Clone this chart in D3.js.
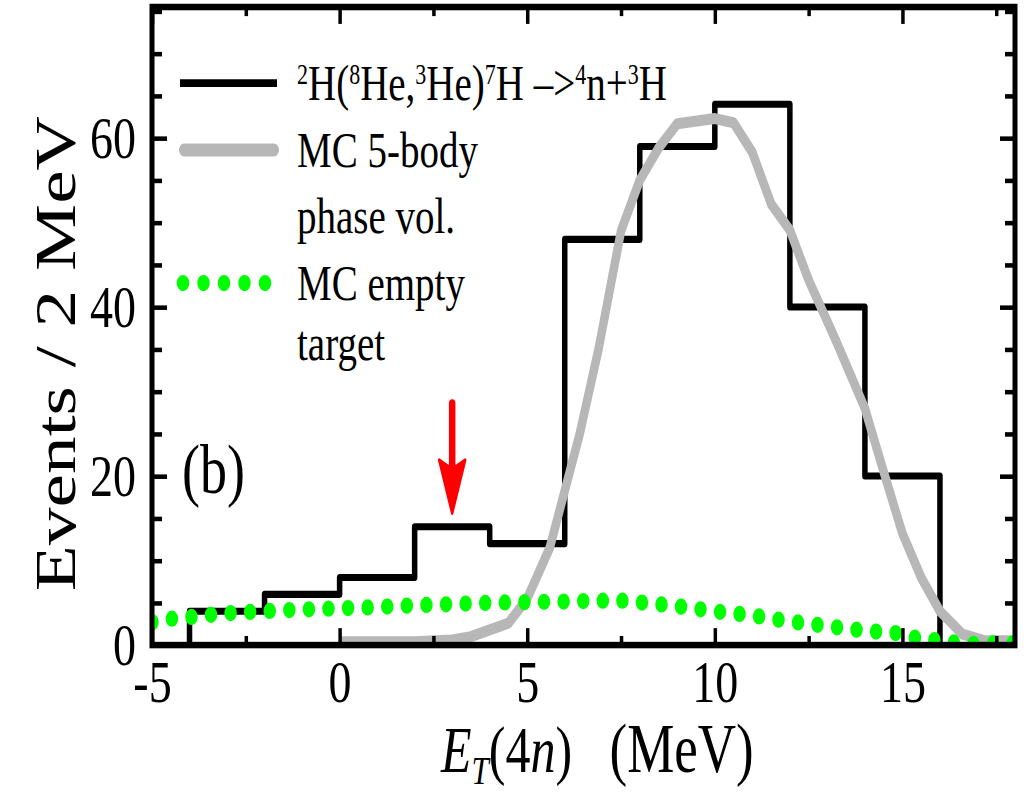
<!DOCTYPE html>
<html>
<head>
<meta charset="utf-8">
<script src="https://cdn.jsdelivr.net/npm/d3@7"></script>
<style>
  html, body { margin: 0; padding: 0; background: #fff; }
  svg { display: block; }
  text { font-family: "Liberation Serif", "Times New Roman", serif; fill: #000; }
</style>
</head>
<body>
<script>
// Histogram of 2H(8He,3He)7H -> 4n+3H events, 2 MeV bins
const binEdges = [-4, -2, 0, 2, 4, 6, 8, 10, 12, 14, 16];
const eventCounts = [4, 6, 8, 14, 12, 48, 59, 64, 40, 20];

// MC 5-body phase volume curve
const phaseE = [0, 1, 2, 3, 3.5, 4.5, 5.0, 5.6, 6.4, 6.9, 7.5, 8.0, 8.5, 9.0, 10.0, 10.5, 11.0, 11.5, 12.0, 12.5, 13.2, 14.0, 14.5, 15.0, 15.5, 16.0, 16.6, 17.2, 18.0];
const phaseN = [0.4, 0.4, 0.4, 0.6, 1.0, 2.6, 5.5, 11.5, 25, 35, 49, 55, 58.8, 61.7, 62.3, 61.8, 58.3, 52.2, 49.1, 43.2, 36.3, 28, 20.5, 13.2, 8, 4, 1.3, 0.5, 0.5];

// MC empty target curve
const emptyE = [-5, -4.5, -4, -3.5, -3, -2, -1, 0, 1, 2, 3, 4, 5, 6, 7, 7.5, 8, 9, 10, 11, 12, 13, 14, 15, 15.5, 16, 16.5, 17, 17.5, 18];
const emptyN = [2.7, 3.1, 3.3, 3.55, 3.75, 4.0, 4.2, 4.35, 4.5, 4.7, 4.85, 5.0, 5.08, 5.15, 5.25, 5.25, 5.05, 4.6, 4.0, 3.5, 2.8, 2.25, 1.7, 1.3, 0.7, 0.55, 0.25, 0.15, 0.2, 0.2];

// Axis ticks
const xMajor = [-5, 0, 5, 10, 15];
const xMinor = [-2.5, 2.5, 7.5, 12.5, 17.5];
const yMajor = [0, 20, 40, 60];
const yMinor = [5, 10, 15, 25, 30, 35, 45, 50, 55, 65, 70, 75];

// Marker arrow (energy, from, to)
const arrowE = 3;
const arrowFrom = 28.6;
const arrowTo = 15.6;

const W = 1026, H = 793, VH = 610;   // drawing is stretched vertically
const svg = d3.select("body").append("svg")
  .attr("width", W).attr("height", H)
  .attr("viewBox", `0 0 ${W} ${VH}`)
  .attr("preserveAspectRatio", "none");

const x = d3.scaleLinear().domain([-5, 18]).range([152, 1015]);
const y = d3.scaleLinear().domain([0, 75.5]).range([496.2, 5.4]);

svg.append("clipPath").attr("id", "plot")
  .append("rect")
  .attr("x", x(-5)).attr("y", y(75.5))
  .attr("width", x(18) - x(-5)).attr("height", y(0) - y(75.5));

const plot = svg.append("g").attr("clip-path", "url(#plot)");

// histogram as steps
const histPts = [[binEdges[0], 0]];
eventCounts.forEach((c, i) => {
  histPts.push([binEdges[i], c]);
  histPts.push([binEdges[i + 1], c]);
});
histPts.push([binEdges[binEdges.length - 1], 0]);

const line = d3.line().x(d => x(d[0])).y(d => y(d[1]));

plot.append("path")
  .datum(histPts)
  .attr("d", line)
  .attr("fill", "none")
  .attr("stroke", "#000")
  .attr("stroke-width", 5.5)
  .attr("stroke-linejoin", "round");

// phase volume curve
plot.append("path")
  .datum(phaseE.map((e, i) => [e, phaseN[i]]))
  .attr("d", line)
  .attr("fill", "none")
  .attr("stroke", "#b7b7b7")
  .attr("stroke-width", 8.5)
  .attr("stroke-linejoin", "round");

// empty target, dotted
plot.append("path")
  .datum(emptyE.map((e, i) => [e, emptyN[i]]))
  .attr("d", d3.line().x(d => x(d[0])).y(d => y(d[1])).curve(d3.curveMonotoneX))
  .attr("fill", "none")
  .attr("stroke", "#00ff00")
  .attr("stroke-width", 12.5)
  .attr("stroke-linecap", "round")
  .attr("stroke-dasharray", "0 19.6")
  .attr("stroke-dashoffset", -0.5);

// red arrow
const ax = x(arrowE);
const tipY = y(arrowTo);
svg.append("line")
  .attr("x1", ax).attr("x2", ax)
  .attr("y1", y(arrowFrom)).attr("y2", tipY - 30)
  .attr("stroke", "#ff0000")
  .attr("stroke-width", 6.5)
  .attr("stroke-linecap", "round");
svg.append("path")
  .attr("d", `M${ax},${tipY} L${ax - 13},${tipY - 41} L${ax - 4},${tipY - 36} L${ax + 4},${tipY - 36} L${ax + 13},${tipY - 41} Z`)
  .attr("fill", "#ff0000")
  .attr("stroke", "#ff0000")
  .attr("stroke-width", 2.5)
  .attr("stroke-linejoin", "round");

// axes with inward ticks
function styleAxis(g, fontSize) {
  g.select(".domain").remove();
  g.selectAll(".tick line").attr("stroke", "#000").attr("stroke-width", 3.5);
  g.selectAll(".tick text")
    .attr("font-family", "Liberation Serif, Times New Roman, serif")
    .attr("font-size", fontSize)
    .attr("fill", "#000");
}
const fmt = d => String(d);

svg.append("g").attr("transform", `translate(0,${y(0)})`)
  .call(d3.axisBottom(x).tickValues(xMajor).tickSize(-13).tickPadding(11).tickFormat(fmt))
  .call(g => styleAxis(g, 46));
svg.append("g").attr("transform", `translate(0,${y(0)})`)
  .call(d3.axisBottom(x).tickValues(xMinor).tickSize(-7).tickFormat(""))
  .call(g => styleAxis(g, 0));
svg.append("g").attr("transform", `translate(0,${y(75.5)})`)
  .call(d3.axisTop(x).tickValues(xMajor).tickSize(-13).tickFormat(""))
  .call(g => styleAxis(g, 0));
svg.append("g").attr("transform", `translate(0,${y(75.5)})`)
  .call(d3.axisTop(x).tickValues(xMinor).tickSize(-7).tickFormat(""))
  .call(g => styleAxis(g, 0));

svg.append("g").attr("transform", `translate(${x(-5)},0)`)
  .call(d3.axisLeft(y).tickValues(yMajor).tickSize(-15).tickPadding(16).tickFormat(fmt))
  .call(g => styleAxis(g, 46));
svg.append("g").attr("transform", `translate(${x(-5)},0)`)
  .call(d3.axisLeft(y).tickValues(yMinor).tickSize(-10).tickFormat(""))
  .call(g => styleAxis(g, 0));
svg.append("g").attr("transform", `translate(${x(18)},0)`)
  .call(d3.axisRight(y).tickValues(yMajor).tickSize(-15).tickFormat(""))
  .call(g => styleAxis(g, 0));
svg.append("g").attr("transform", `translate(${x(18)},0)`)
  .call(d3.axisRight(y).tickValues(yMinor).tickSize(-10).tickFormat(""))
  .call(g => styleAxis(g, 0));

// frame
svg.append("rect")
  .attr("x", x(-5)).attr("y", y(75.5))
  .attr("width", x(18) - x(-5)).attr("height", y(0) - y(75.5))
  .attr("fill", "none").attr("stroke", "#000").attr("stroke-width", 5);

// axis titles
svg.append("text")
  .attr("transform", `translate(75,272) rotate(-90)`)
  .attr("text-anchor", "middle")
  .attr("font-size", 58)
  .text("Events / 2 MeV");

const xt = svg.append("text").attr("x", 441).attr("y", 594).attr("font-size", 50);
xt.append("tspan").attr("font-style", "italic").text("E");
xt.append("tspan").attr("font-style", "italic").attr("font-size", 31).attr("dy", 9).text("T");
xt.append("tspan").attr("dy", -9).text("(4");
xt.append("tspan").attr("font-style", "italic").text("n");
xt.append("tspan").text(")\u00a0\u00a0\u00a0");
xt.append("tspan").attr("font-size", 53).text("(MeV)");

// panel label
svg.append("text").attr("x", 182).attr("y", 379).attr("font-size", 54).text("(b)");

// legend
const lg = svg.append("g");
lg.append("line").attr("x1", 180).attr("x2", 277).attr("y1", 64).attr("y2", 64)
  .attr("stroke", "#000").attr("stroke-width", 6);
lg.append("line").attr("x1", 184).attr("x2", 274).attr("y1", 115.4).attr("y2", 115.4)
  .attr("stroke", "#b7b7b7").attr("stroke-width", 10).attr("stroke-linecap", "round");
lg.append("line").attr("x1", 183).attr("x2", 270).attr("y1", 217.7).attr("y2", 217.7)
  .attr("stroke", "#00ff00").attr("stroke-width", 12.5).attr("stroke-linecap", "round")
  .attr("stroke-dasharray", "0 20.5");

// reaction label with superscript mass numbers
const t1 = lg.append("text").attr("x", 297).attr("y", 77).attr("font-size", 39);
const parts = [["2", true], ["H(", false], ["8", true], ["He,", false], ["3", true], ["He)", false],
               ["7", true], ["H \u2013>", false], ["4", true], ["n+", false], ["3", true], ["H", false]];
parts.forEach(([s, sup]) => {
  if (sup) t1.append("tspan").attr("font-size", 22).attr("dy", -12).text(s);
  else t1.append("tspan").attr("dy", 12).text(s);
});

lg.append("text").attr("x", 297).attr("y", 128.5).attr("font-size", 39).text("MC 5-body");
lg.append("text").attr("x", 297).attr("y", 179.5).attr("font-size", 39).text("phase vol.");
lg.append("text").attr("x", 297).attr("y", 231).attr("font-size", 39).text("MC empty");
lg.append("text").attr("x", 297).attr("y", 277).attr("font-size", 39).text("target");
</script>
</body>
</html>
